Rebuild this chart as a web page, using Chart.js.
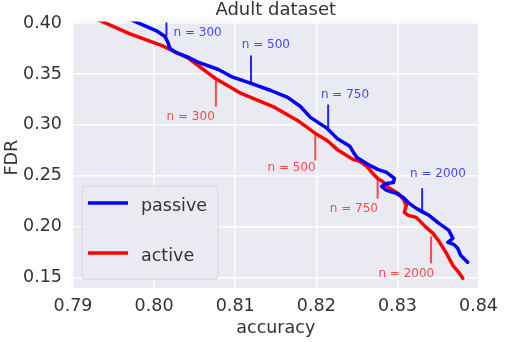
<!DOCTYPE html>
<html>
<head>
<meta charset="utf-8">
<script src="https://cdn.jsdelivr.net/npm/chart.js@4/dist/chart.umd.min.js"></script>
<style>
html,body{margin:0;padding:0;background:#fff;}
#wrap{width:506px;height:342px;position:relative;}
</style>
</head>
<body>
<div id="wrap"><canvas id="c" width="506" height="342"></canvas></div>
<script>
// ---- data ----
const titleText = "Adult dataset";
const xLabel = "accuracy";
const yLabel = "FDR";
const xTicks = [0.79, 0.80, 0.81, 0.82, 0.83, 0.84];
const yTicks = [0.15, 0.20, 0.25, 0.30, 0.35, 0.40];
const seriesNames = ["passive", "active"];

const passiveAccuracy = [0.79512,0.79732,0.80024,0.80134,0.80171,0.80195,0.80268,0.80427,0.80549,0.80793,0.80951,0.81195,0.81439,0.81646,0.81805,0.81927,0.82134,0.82256,0.82378,0.82415,0.82451,0.82500,0.82659,0.82756,0.82866,0.82963,0.82951,0.82866,0.82805,0.82866,0.82988,0.83073,0.83146,0.83232,0.83390,0.83512,0.83634,0.83683,0.83622,0.83695,0.83744,0.83780,0.83841,0.83866];
const passiveFDR      = [0.4103,0.4025,0.3926,0.3868,0.3809,0.3750,0.3711,0.3662,0.3613,0.3544,0.3475,0.3407,0.3338,0.3270,0.3181,0.3074,0.2966,0.2868,0.2809,0.2789,0.2740,0.2681,0.2603,0.2564,0.2534,0.2475,0.2436,0.2426,0.2397,0.2358,0.2328,0.2289,0.2230,0.2181,0.2113,0.2034,0.1966,0.1887,0.1848,0.1828,0.1789,0.1721,0.1672,0.1652];

const activeAccuracy = [0.79146,0.79329,0.79695,0.80098,0.80427,0.80671,0.80756,0.81073,0.81488,0.81768,0.81988,0.82134,0.82256,0.82451,0.82537,0.82622,0.82707,0.82756,0.82817,0.82902,0.83012,0.83073,0.83110,0.83085,0.83134,0.83232,0.83354,0.83439,0.83512,0.83598,0.83683,0.83756,0.83805];
const activeFDR      = [0.4088,0.4025,0.3897,0.3779,0.3652,0.3505,0.3456,0.3309,0.3172,0.3044,0.2917,0.2848,0.2760,0.2662,0.2642,0.2593,0.2515,0.2475,0.2446,0.2378,0.2328,0.2270,0.2211,0.2142,0.2113,0.2093,0.1995,0.1936,0.1858,0.1750,0.1623,0.1554,0.1495];

// sample-size annotations (n), marker accuracy, marker FDR span, label anchor
const markN = [300, 500, 750, 2000];
const passiveMarkAcc   = [0.80152, 0.81195, 0.82146, 0.83305];
const passiveMarkTop   = [0.4005, 0.3681, 0.3201, 0.2378];
const passiveMarkBot   = [0.3868, 0.3407, 0.2946, 0.2132];
const passiveLabelAcc  = [0.80537, 0.81378, 0.82354, 0.83500];
const passiveLabelFDR  = [0.3907, 0.3789, 0.3299, 0.2515];
const activeMarkAcc    = [0.80762, 0.81988, 0.82756, 0.83415];
const activeMarkTop    = [0.3456, 0.2926, 0.2475, 0.1907];
const activeMarkBot    = [0.3181, 0.2652, 0.2279, 0.1642];
const activeLabelAcc   = [0.80451, 0.81695, 0.82463, 0.83110];
const activeLabelFDR   = [0.3083, 0.2583, 0.2181, 0.1534];

const FONT = "'DejaVu Sans', sans-serif";
const TXT = "#333333";
const BLUE = "#0000ff", RED = "#ff0000";

function pts(xs, ys){ return xs.map((x,i)=>({x:x, y:ys[i]})); }

const decor = {
  id: 'decor',
  beforeDraw(chart){
    const {ctx, chartArea:a} = chart;
    ctx.save();
    ctx.fillStyle = '#eaeaf2';
    ctx.fillRect(a.left, a.top, a.right-a.left, a.bottom-a.top);
    ctx.restore();
  },
  afterDatasetsDraw(chart){
    const {ctx, chartArea:a, scales:{x, y}} = chart;
    ctx.save();
    // annotations
    const groups = [
      {acc:passiveMarkAcc, top:passiveMarkTop, bot:passiveMarkBot, la:passiveLabelAcc, lf:passiveLabelFDR, line:'rgba(0,0,255,0.85)', text:'rgba(40,40,255,0.85)'},
      {acc:activeMarkAcc, top:activeMarkTop, bot:activeMarkBot, la:activeLabelAcc, lf:activeLabelFDR, line:'rgba(255,0,0,0.7)', text:'rgba(255,30,30,0.8)'}
    ];
    ctx.beginPath(); ctx.rect(a.left, a.top, a.right-a.left, a.bottom-a.top); ctx.clip();
    groups.forEach(g=>{
      ctx.strokeStyle = g.line; ctx.lineWidth = 2;
      g.acc.forEach((v,i)=>{
        const px = x.getPixelForValue(v);
        ctx.beginPath();
        ctx.moveTo(px, y.getPixelForValue(g.top[i]));
        ctx.lineTo(px, y.getPixelForValue(g.bot[i]));
        ctx.stroke();
      });
      ctx.fillStyle = g.text; ctx.font = "12px " + FONT;
      ctx.textAlign = 'center'; ctx.textBaseline = 'middle';
      markN.forEach((n,i)=>{
        ctx.fillText('n = ' + n, x.getPixelForValue(g.la[i]), y.getPixelForValue(g.lf[i]));
      });
    });
    ctx.restore();
    ctx.save();
    // legend
    const lx = 82, ly = 186, lw = 136, lh = 93, r = 4;
    ctx.beginPath();
    ctx.moveTo(lx+r, ly); ctx.lineTo(lx+lw-r, ly); ctx.quadraticCurveTo(lx+lw, ly, lx+lw, ly+r);
    ctx.lineTo(lx+lw, ly+lh-r); ctx.quadraticCurveTo(lx+lw, ly+lh, lx+lw-r, ly+lh);
    ctx.lineTo(lx+r, ly+lh); ctx.quadraticCurveTo(lx, ly+lh, lx, ly+lh-r);
    ctx.lineTo(lx, ly+r); ctx.quadraticCurveTo(lx, ly, lx+r, ly); ctx.closePath();
    ctx.fillStyle = 'rgba(234,234,242,0.85)'; ctx.fill();
    ctx.strokeStyle = '#d4d4dc'; ctx.lineWidth = 1; ctx.stroke();
    chart.data.datasets.forEach((ds,i)=>{
      const yy = 203 + i*50;
      ctx.strokeStyle = ds.borderColor; ctx.lineWidth = 3.5;
      ctx.beginPath(); ctx.moveTo(88, yy); ctx.lineTo(128, yy); ctx.stroke();
      ctx.fillStyle = TXT; ctx.font = "17.5px " + FONT;
      ctx.textAlign = 'left'; ctx.textBaseline = 'middle';
      ctx.fillText(ds.label, 141, yy + 3);
    });
    // title and axis titles
    ctx.fillStyle = TXT;
    ctx.font = "18px " + FONT; ctx.textAlign = 'center'; ctx.textBaseline = 'alphabetic';
    ctx.fillText(titleText, (a.left+a.right)/2, 15);
    ctx.font = "17.5px " + FONT;
    ctx.fillText(xLabel, (a.left+a.right)/2, 333);
    ctx.translate(17, (a.top+a.bottom)/2 + 3);
    ctx.rotate(-Math.PI/2);
    ctx.fillText(yLabel, 0, 0);
    ctx.restore();
  }
};

new Chart(document.getElementById('c'), {
  type: 'scatter',
  data: {
    datasets: [
      {label: seriesNames[0], data: pts(passiveAccuracy, passiveFDR), borderColor: BLUE, backgroundColor: BLUE,
       showLine: true, pointRadius: 0, borderWidth: 3.5, tension: 0, clip: 0, borderJoinStyle: 'round', borderCapStyle: 'round'},
      {label: seriesNames[1], data: pts(activeAccuracy, activeFDR), borderColor: RED, backgroundColor: RED,
       showLine: true, pointRadius: 0, borderWidth: 3.5, tension: 0, clip: 0, borderJoinStyle: 'round', borderCapStyle: 'round'}
    ]
  },
  options: {
    responsive: false,
    animation: false,
    layout: {padding: {left: 0, right: 23, top: 21, bottom: 0}},
    plugins: {legend: {display: false}, title: {display: false}, tooltip: {enabled: false}},
    scales: {
      x: {
        type: 'linear', min: 0.79, max: 0.84,
        afterBuildTicks: s => { s.ticks = xTicks.map(v=>({value:v})); },
        afterFit: s => { s.height = 54; },
        grid: {color: '#ffffff', lineWidth: 1.5, drawTicks: false},
        border: {display: false},
        ticks: {color: TXT, font: {family: FONT, size: 17.5}, padding: 8, callback: v => v.toFixed(2), maxRotation: 0}
      },
      y: {
        type: 'linear', min: 0.14, max: 0.4015,
        afterBuildTicks: s => { s.ticks = yTicks.map(v=>({value:v})); },
        afterFit: s => { s.width = 73; },
        grid: {color: '#ffffff', lineWidth: 1.5, drawTicks: false},
        border: {display: false},
        ticks: {color: TXT, font: {family: FONT, size: 17.5}, padding: 11, callback: v => v.toFixed(2)}
      }
    }
  },
  plugins: [decor]
});
</script>
</body>
</html>
